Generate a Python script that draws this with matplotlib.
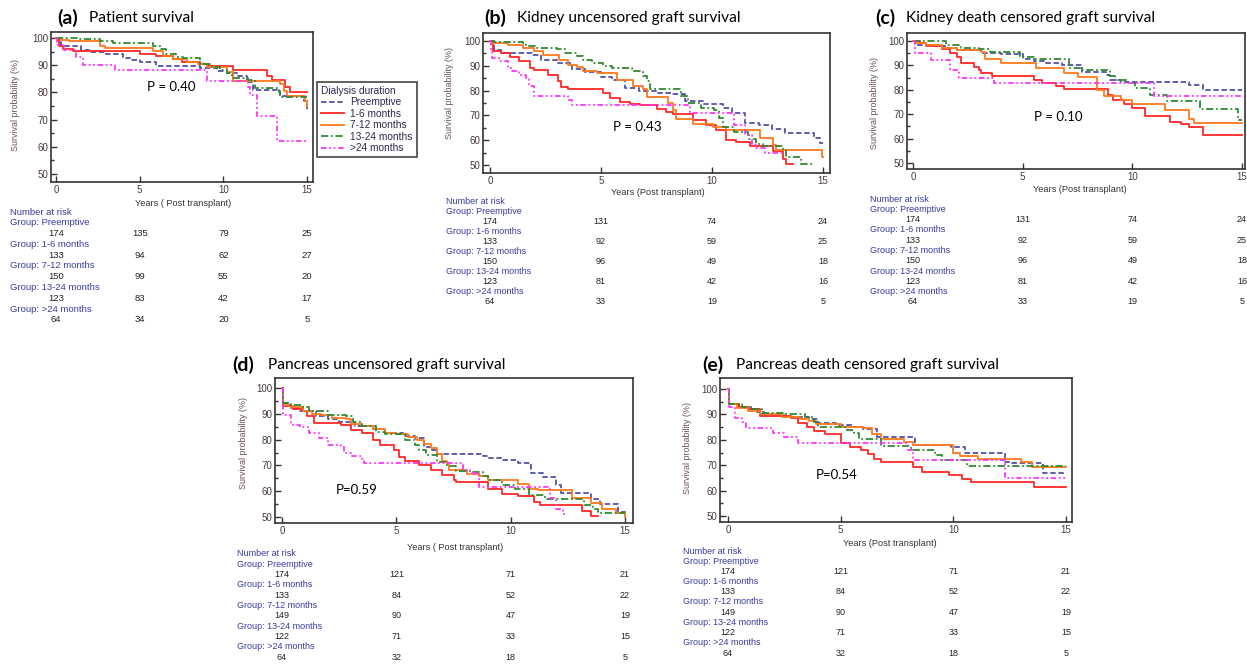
import matplotlib.pyplot as plt
from matplotlib import transforms
from matplotlib.lines import Line2D

# groups / labels
groups = ['Preemptive', '1-6 months', '7-12 months', '13-24 months', '>24 months']
group_rows = ['Group: ' + g for g in groups]
years = [0, 5, 10, 15]

# (a) patient survival: (time, survival %) steps
a_pre = [(0,100),(0.1,98.5),(0.3,97),(1.5,95.5),(2.0,95),(3.0,94),(4.0,92.5),(4.5,92),(5.0,91),(6.0,89.8),
         (8.6,89),(9.6,88),(10.2,87),(10.8,86),(11.4,84),(11.8,80.8),(13.4,78.5),(14.8,77),(15,73.7)]
a_r16 = [(0,100),(0.15,97),(0.4,96),(1.0,95.3),(5.0,94.3),(6.0,93.3),(7.0,92.2),(7.5,91.3),(8.6,90.5),
         (9.1,89.8),(10.6,88.3),(12.6,86.2),(12.9,84.4),(13.7,82),(14.0,80),(15,80)]
a_r712 = [(0,100),(0.3,99.3),(0.8,98.8),(2.6,97.2),(2.9,96.3),(5.8,95.2),(6.4,93.5),(7.0,92.3),(7.8,91.2),
          (8.5,90.3),(9.0,89.2),(10.2,87.5),(10.6,84.2),(13.4,83),(13.6,80.5),(13.8,78.8),(14.9,77),(15,74.5)]
a_g1324 = [(0,100),(1.4,99.6),(2.6,99),(3.4,98.2),(5.8,97.2),(6.3,96),(6.6,94.3),(7.2,93),(7.6,92.6),
           (8.6,90.5),(9.3,89.2),(9.8,88.2),(10.2,87),(10.5,85.2),(11.5,84.5),(11.9,81.6),(13.3,80),(13.4,78.2),(15,78.2)]
a_gt24 = [(0,100),(0.05,97.5),(0.5,95.7),(1.2,93),(1.6,90.2),(3.5,88.1),(9.0,84.2),(11.5,82),(11.6,79.2),
          (12.0,71.2),(13.2,62.3),(15,62.3)]

# (b) kidney uncensored graft survival
b_pre = [(0,100),(0.2,96.4),(0.5,95.2),(1.9,94.2),(2.3,92.5),(3.0,91),(3.7,88.8),(4.3,87.5),(5.0,85.6),
         (5.5,84.2),(6.1,81),(6.7,80),(7.5,79),(8.2,78.5),(8.8,75.8),(9.6,74.5),(10.5,73),(10.9,71),(11.5,67),
         (12.1,66),(12.7,64.5),(13.3,63),(14.6,61),(14.85,58.7),(15,58.7)]
b_r16 = [(0,100),(0.15,96),(0.5,95),(0.9,93.4),(1.3,92),(1.8,89),(2.0,88.4),(2.6,86.3),(3.05,84),(3.2,81.6),
         (3.5,80.6),(5.1,78.9),(5.4,77),(5.85,75.5),(6.3,74.6),(6.75,74.1),(7.5,72.5),(7.95,71.5),(8.25,70.5),
         (9.15,68.1),(9.75,66),(10.2,64),(10.65,60),(11.1,59.4),(11.7,57.5),(12.75,55.5),(13.2,52.5),(13.35,50.5),(13.65,50.5)]
b_r712 = [(0,100),(0.1,99),(0.8,98.2),(1.5,97),(2.0,96),(2.4,94.5),(3.1,92.3),(3.5,90.5),(3.9,89.5),(4.2,88),
          (4.8,87.2),(5.7,84.3),(6.45,82),(6.9,80.5),(7.05,77.6),(8.0,75),(8.25,72),(8.4,68.5),(9.15,66.5),
          (10.05,65.5),(10.65,64),(12.15,61),(12.75,58),(12.9,56),(14.85,56),(14.95,53.1),(15,53.1)]
b_g1324 = [(0,100),(0.2,99.5),(1.5,99),(1.6,98),(2.1,97),(3.0,96.6),(3.4,95),(3.9,94),(4.2,92.2),(4.6,91),
           (5.1,89.9),(5.5,89),(6.4,88),(6.9,86),(7.05,84),(7.2,80.5),(8.55,79.5),(8.6,78),(8.9,75),(9.5,73),
           (10.1,72),(10.3,69),(10.5,65.3),(11.0,63.3),(11.6,62),(11.65,60.4),(12.0,58.5),(12.3,57.5),(13.2,56),
           (13.35,53.4),(14.0,50.4),(14.5,50.4)]
b_gt24 = [(0,100),(0.05,96),(0.1,93),(0.4,92),(0.8,89),(1.0,88),(1.3,86.3),(1.6,85),(1.75,82),(2.0,78),
          (3.5,76.2),(3.7,74.2),(9.0,70.8),(11.0,66.1),(11.5,62),(11.8,58),(12.0,56.7),(12.4,55),(13.2,55)]

# (c) kidney death censored graft survival
c_pre = [(0,100),(0.1,98.5),(1.0,98),(1.5,97),(2.0,96.2),(3.2,95.1),(4.0,94.5),(5.0,92.8),(5.5,92),(6.0,91),
         (6.8,90),(7.7,87.4),(8.8,86),(9.0,84.2),(9.5,83.3),(12.6,81.9),(13.2,79.9),(15,79.9)]
c_r16 = [(0,100),(0.3,99),(0.6,98),(1.3,96.9),(1.7,95),(2.0,93.5),(2.2,91),(2.8,89.4),(3.0,88),(3.1,86.7),
         (3.6,85.5),(5.5,84),(5.9,82.6),(6.5,81.5),(6.9,80.3),(8.9,78),(9.1,76),(9.6,74),(10.0,72.4),(10.6,69.3),
         (11.7,67),(12.2,66),(12.6,64.7),(13.2,61.5),(15,61.5)]
c_r712 = [(0,100),(0.1,99),(0.6,98.5),(1.3,97),(2.0,96.5),(3.1,95.5),(3.3,92.8),(4.0,91),(5.6,89),(6.9,87),
          (7.5,85.3),(8.4,79.9),(8.7,77.4),(9.5,76),(10.0,74),(11.5,71.7),(12.6,68),(12.8,66.3),(15,66.3)]
c_g1324 = [(0,100),(1.5,98.5),(2.2,97),(3.0,96.6),(3.5,95.5),(4.9,93.5),(5.5,92.5),(7.1,89.1),(7.6,88),
           (9.0,85.6),(9.2,84),(9.8,82.6),(10.1,80.6),(10.8,77.9),(11.6,75.5),(13.1,72),(14.8,67.7),(15,67.7)]
c_gt24 = [(0,100),(0.1,95.2),(0.8,92.1),(1.7,88),(2.1,84.9),(3.7,82.9),(11.0,77.6),(15,77.6)]

# (d) pancreas uncensored graft survival
d_pre = [(0,100),(0.05,94.2),(0.4,92.2),(0.8,91),(1.5,89.2),(2.0,88),(2.5,87),(3.2,85.1),(4.0,84),(4.5,82.5),
         (5.3,81.5),(5.8,80.5),(6.2,77.3),(6.5,76),(6.8,74.4),(8.8,73.5),(9.0,72.7),(9.6,72),(10.3,71),(10.9,67),
         (11.4,65.6),(12.0,62.3),(12.2,59.3),(13.5,57.1),(13.9,55),(14.7,52),(15,51)]
d_r16 = [(0,100),(0.05,92.9),(0.5,92),(0.9,91),(1.1,89),(1.4,86.4),(2.6,85.5),(3.0,83.8),(3.5,82.5),(4.0,79.9),
         (4.3,77.9),(4.9,76),(5.1,73.4),(5.4,71.8),(6.0,70.1),(6.5,68.2),(7.0,66.2),(7.5,64.5),(7.6,63.4),(9.0,61),
         (9.6,59.1),(10.3,58.1),(11.0,55.8),(11.3,54.5),(13.1,52.5),(13.5,50.3),(13.8,50.3)]
d_r712 = [(0,100),(0.05,93.5),(0.4,92.5),(0.9,91),(1.3,90),(1.7,89.6),(2.2,88.5),(2.8,87.9),(3.0,86),(3.5,85.1),
          (4.0,84),(4.5,82.7),(5.0,82),(5.5,80.9),(5.9,80),(6.2,78.2),(6.5,76.6),(6.8,74.5),(7.0,71.8),(7.2,70.5),
          (7.3,68.4),(8.1,66.6),(8.6,66),(9.0,64.5),(10.3,62.6),(10.8,61),(11.2,60.4),(12.7,57.5),(13.5,55.5),
          (14.0,53.2),(14.6,51.5),(15,50)]
d_g1324 = [(0,100),(0.05,94),(0.3,93.5),(0.9,92.5),(1.2,91),(2.0,89.6),(2.8,89),(3.1,87),(3.5,85.1),(4.1,83.1),
           (4.5,82.2),(5.4,79.9),(5.8,78),(6.0,76),(6.3,74),(6.8,71.5),(7.2,69.7),(7.6,67.9),(8.2,67.5),(8.8,66),
           (9.0,64.3),(9.6,62.3),(10.2,61),(10.8,58.4),(11.5,56.8),(13.2,54.8),(13.6,53),(13.8,51.5),(15,51.5)]
d_gt24 = [(0,100),(0.05,89.6),(0.4,85.7),(0.8,85),(1.2,82.7),(1.6,80.5),(2.0,77.9),(2.6,77.5),(2.7,74.9),
          (3.0,73.6),(3.5,72.5),(3.6,70.8),(7.9,68.2),(8.2,67),(8.6,61.7),(11.7,57.5),(12.0,53),(12.3,51),(12.4,51)]

# (e) pancreas death censored graft survival
e_pre = [(0,100),(0.05,93.9),(0.5,93),(1.0,92),(1.3,91),(1.6,90),(2.5,89.1),(3.6,88.2),(4.0,86.7),(4.8,86),
         (5.5,85.1),(6.0,84.2),(6.6,81.2),(8.3,78),(9.9,77),(10.5,75),(12.3,71.1),(12.6,70.7),(14.0,67.1),(15,67.1)]
e_r16 = [(0,100),(0.05,94),(0.5,93),(0.9,92),(1.4,89.3),(2.8,88.7),(3.1,86.7),(3.5,85),(3.8,83.4),(4.3,82.1),
         (5.0,78.6),(5.4,77.2),(5.9,76),(6.2,74.6),(6.5,72.6),(6.8,71.1),(8.2,69.3),(8.6,67.4),(9.8,66.3),
         (10.4,64.7),(10.8,63.4),(13.6,61.4),(15,61.4)]
e_r712 = [(0,100),(0.05,94),(0.4,92.4),(0.9,91.5),(1.4,90),(2.4,89.1),(3.2,88),(3.6,87.5),(3.9,86.4),(5.0,85),
          (6.0,84.5),(6.4,82.2),(6.8,80.3),(7.8,79.2),(8.2,77.9),(10.0,75),(10.3,73.7),(11.1,72.6),(13.0,71.1),
          (13.5,69.3),(15,69.3)]
e_g1324 = [(0,100),(0.05,94),(0.6,93),(1.0,92),(1.5,90.5),(2.5,90),(3.4,89),(3.8,87),(4.0,85.1),(5.3,83.8),
           (5.6,82.5),(5.8,80.5),(6.8,77.6),(8.1,75.9),(9.2,73.9),(9.5,72),(10.6,69.7),(15,69.7)]
e_gt24 = [(0,100),(0.05,93),(0.3,88.4),(0.6,87),(0.8,84.5),(2.0,82.5),(2.5,81.2),(3.1,78.8),(8.0,75.9),
          (8.2,72.2),(12.3,65),(15,65)]

# number at risk at 0, 5, 10, 15 years
a_risk = [[174, 135, 79, 25], [133, 94, 62, 27], [150, 99, 55, 20], [123, 83, 42, 17], [64, 34, 20, 5]]
b_risk = [[174, 131, 74, 24], [133, 92, 59, 25], [150, 96, 49, 18], [123, 81, 42, 16], [64, 33, 19, 5]]
c_risk = b_risk
d_risk = [[174, 121, 71, 21], [133, 84, 52, 22], [149, 90, 47, 19], [122, 71, 33, 15], [64, 32, 18, 5]]
e_risk = d_risk

colors = ['#5252a8', '#ff2626', '#ff7a1a', '#2f8a2f', '#ff33ff']
dashes = [(3, 1.5), None, None, (4, 1.5, 1, 1.5), (3, 1.5, 1, 1.5, 1, 1.5)]

W, H = 1247, 665
fig = plt.figure(figsize=(W / 100, H / 100), dpi=100)
small = 'Liberation Sans'
calib = 'Lato'


def fx(x):
    return x / W


def fy(y):
    return 1 - y / H


def make_panel(box, x0, x15, y100, y50, curves):
    l, r, t, b = box
    ax = fig.add_axes([fx(l), fy(b), (r - l) / W, (b - t) / H])
    sx = (x15 - x0) / 15
    sy = (y50 - y100) / 50
    for pts, c, d in zip(curves, colors, dashes):
        tt = [p[0] for p in pts]
        ss = [p[1] for p in pts]
        ln, = ax.plot(tt, ss, drawstyle='steps-post', color=c, lw=1.3)
        if d:
            ln.set_dashes(d)
    ax.set_xlim((l - x0) / sx, (r - x0) / sx)
    ax.set_ylim(50 - (b - y50) / sy, 100 + (y100 - t) / sy)
    ax.set_xticks(years)
    ax.set_yticks(range(50, 101, 10))
    ax.set_yticks(range(55, 100, 10), minor=True)
    ax.tick_params(direction='in', length=4, width=1, color='#333333', labelsize=7,
                   labelcolor='#4a3a3a', pad=2)
    ax.tick_params(axis='y', which='minor', direction='in', length=2.5, width=1, color='#333333')
    for s in ax.spines.values():
        s.set_color('#333333')
        s.set_linewidth(1.2)
    for lab in ax.get_xticklabels() + ax.get_yticklabels():
        lab.set_fontfamily(small)
    return ax


def title(x1, x2, y, tag, text):
    fig.text(fx(x1), fy(y), tag, fontsize=14, fontweight='bold', family=calib, va='center')
    fig.text(fx(x2), fy(y), text, fontsize=11.2, family=calib, va='center')


def axis_text(ax, ylab_x, ylab_y, xlab_x, xlab_y, xlab):
    fig.text(fx(ylab_x), fy(ylab_y), 'Survival probability (%)', rotation=90, fontsize=6.4,
             family=small, color='#6a5050', ha='center', va='center')
    fig.text(fx(xlab_x), fy(xlab_y), xlab, fontsize=6.6, family=small, color='#333333',
             ha='center', va='center')


def risk_table(ax, hx, hy, step, risk, fs=6.5):
    tr = transforms.blended_transform_factory(ax.transData, fig.transFigure)
    fig.text(fx(hx), fy(hy), 'Number at risk', fontsize=fs, family=small, color='#3a3aa0', va='center')
    for i, (g, row) in enumerate(zip(group_rows, risk)):
        gy = hy + step * (1 + 2 * i)
        fig.text(fx(hx), fy(gy), g, fontsize=fs, family=small, color='#3a3aa0', va='center')
        for yr, n in zip(years, row):
            ax.text(yr, fy(gy + step), str(n), transform=tr, fontsize=fs, family=small,
                    color='#222222', ha='center', va='center', clip_on=False)


# (a)
ax_a = make_panel((51, 313, 32, 182), 56, 307, 38, 174, [a_pre, a_r16, a_r712, a_g1324, a_gt24])
title(57, 89, 18, '(a)', 'Patient survival')
axis_text(ax_a, 16, 105, 183, 203, 'Years ( Post transplant)')
fig.text(fx(171), fy(87), 'P = 0.40', fontsize=9.5, family=calib, ha='center', va='center')
risk_table(ax_a, 10, 212, 10.8, a_risk, fs=6.8)
handles = [Line2D([], [], color=c, lw=1.3, dashes=d if d else (None, None)) for c, d in zip(colors, dashes)]
leg = ax_a.legend(handles, groups, title='Dialysis duration', loc='upper left',
                  bbox_to_anchor=(fx(317), fy(82)), bbox_transform=fig.transFigure,
                  fancybox=False, edgecolor='#444444', framealpha=1,
                  prop={'family': small, 'size': 7.3}, title_fontproperties={'family': small, 'size': 7.3},
                  handlelength=2.3, handletextpad=0.6, labelspacing=0.14, borderpad=0.4,
                  borderaxespad=0, alignment='left')
leg.get_frame().set_linewidth(1.2)
for t in leg.get_texts():
    t.set_color('#2a2a50')
leg.get_title().set_color('#2a2a50')

# (b)
ax_b = make_panel((483, 830, 33, 173), 490, 823, 41, 165, [b_pre, b_r16, b_r712, b_g1324, b_gt24])
title(484, 517, 18, '(b)', 'Kidney uncensored graft survival')
axis_text(ax_b, 450, 93, 658, 193, 'Years (Post transplant)')
fig.text(fx(637), fy(127), 'P = 0.43', fontsize=9.5, family=calib, ha='center', va='center')
risk_table(ax_b, 446, 201, 10.1, b_risk)

# (c)
ax_c = make_panel((907, 1245, 33, 169), 913, 1242, 41, 163, [c_pre, c_r16, c_r712, c_g1324, c_gt24])
title(875, 906, 18, '(c)', 'Kidney death censored graft survival')
axis_text(ax_c, 875, 103, 1080, 190, 'Years (Post transplant)')
fig.text(fx(1058), fy(117), 'P = 0.10', fontsize=9.5, family=calib, ha='center', va='center')
risk_table(ax_c, 870, 199, 10.3, c_risk)

# (d)
ax_d = make_panel((275, 633, 378, 523), 282, 625, 388, 517, [d_pre, d_r16, d_r712, d_g1324, d_gt24])
title(232, 268, 365, '(d)', 'Pancreas uncensored graft survival')
axis_text(ax_d, 243, 443, 455, 547, 'Years ( Post transplant)')
fig.text(fx(357), fy(490), 'P=0.59', fontsize=9.5, family=calib, ha='center', va='center')
risk_table(ax_d, 237, 554, 10.3, d_risk)

# (e)
ax_e = make_panel((720, 1072, 378, 522), 728, 1066, 389, 516, [e_pre, e_r16, e_r712, e_g1324, e_gt24])
title(702, 736, 365, '(e)', 'Pancreas death censored graft survival')
axis_text(ax_e, 687, 448, 890, 544, 'Years (Post transplant)')
fig.text(fx(837), fy(475), 'P=0.54', fontsize=9.5, family=calib, ha='center', va='center')
risk_table(ax_e, 683, 551, 10.2, e_risk)

fig.savefig('out.png', dpi=100)
